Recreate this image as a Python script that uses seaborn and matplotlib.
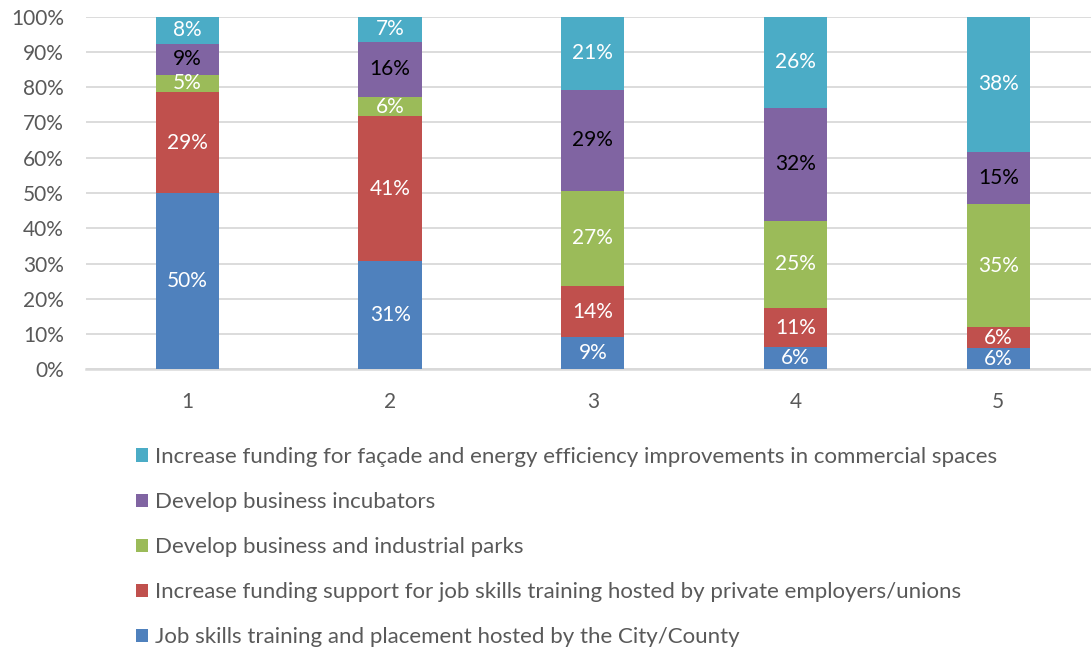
import pandas as pd
import seaborn as sns
import matplotlib.pyplot as plt
from matplotlib.patches import Patch

# Данные графика (доли в процентах, по оценке с картинки)
categories = ['1', '2', '3', '4', '5']
series_names = [
    'Job skills training and placement hosted by the City/County',
    'Increase funding support for job skills training hosted by private employers/unions',
    'Develop business and industrial parks',
    'Develop business incubators',
    'Increase funding for façade and energy efficiency improvements in commercial spaces',
]
job_skills_city = [50.0, 30.6, 9.1, 6.4, 5.9]
job_skills_private = [28.6, 41.1, 14.4, 10.9, 6.0]
industrial_parks = [5.0, 5.6, 27.2, 24.9, 34.9]
incubators = [8.6, 15.6, 28.6, 32.0, 14.8]
facade_funding = [7.8, 7.1, 20.7, 25.8, 38.4]
y_ticks = [0, 10, 20, 30, 40, 50, 60, 70, 80, 90, 100]

colors = ['#4F81BD', '#C0504D', '#9BBB59', '#8064A2', '#4BACC6']
label_colors = ['white', 'white', 'white', 'black', 'white']

df = pd.DataFrame(
    [job_skills_city, job_skills_private, industrial_parks, incubators, facade_funding],
    index=series_names, columns=categories,
).T
df = df.div(df.sum(axis=1), axis=0) * 100
cum = df.cumsum(axis=1)
bottoms = cum - df

plt.rcParams['font.family'] = ['Lato', 'DejaVu Sans']
fig = plt.figure(figsize=(10.91, 6.49), dpi=100)
ax = fig.add_axes([86 / 1091, 1 - 369.3 / 649, 1 - 86 / 1091, (369.3 - 16.7) / 649])

# Накопленные столбцы рисуем сверху вниз, каждый следующий перекрывает предыдущий
for name, c in reversed(list(zip(series_names, colors))):
    sns.barplot(x=categories, y=cum[name].values, order=categories, color=c,
                saturation=1, width=0.312, linewidth=0, ax=ax, zorder=3)

# Подписи значений в центре каждого сегмента
for name, tc in zip(series_names, label_colors):
    for i, cat in enumerate(categories):
        v = df.loc[cat, name]
        ax.text(i, bottoms.loc[cat, name] + v / 2, f'{v:.0f}%', ha='center', va='center',
                color=tc, fontsize=15, zorder=4)

ax.set_xlim(-0.5, 4.457)
ax.set_ylim(0, 100)
ax.set_yticks(y_ticks)
ax.set_yticklabels([f'{t}%' for t in y_ticks])
ax.yaxis.grid(True, color='#D9D9D9', linewidth=1.3, zorder=0)
ax.set_axisbelow(True)
for s in ['top', 'right', 'left']:
    ax.spines[s].set_visible(False)
ax.spines['bottom'].set_color('#D9D9D9')
ax.spines['bottom'].set_linewidth(1.8)
ax.tick_params(axis='both', length=0, labelsize=15, labelcolor='#595959')
ax.tick_params(axis='x', pad=16)
ax.tick_params(axis='y', pad=16)
ax.set_xlabel('')
ax.set_ylabel('')

handles = [Patch(facecolor=c, edgecolor='none', label=n) for n, c in zip(series_names, colors)]
handles = handles[::-1]
fig.legend(handles=handles, loc='upper left', bbox_to_anchor=(136 / 1091, 1 - 447 / 649),
           frameon=False, fontsize=16, labelcolor='#595959', borderpad=0, borderaxespad=0,
           handlelength=0.55, handleheight=0.55, handletextpad=0.3, labelspacing=1.13)

plt.savefig('out.png', dpi=100)
